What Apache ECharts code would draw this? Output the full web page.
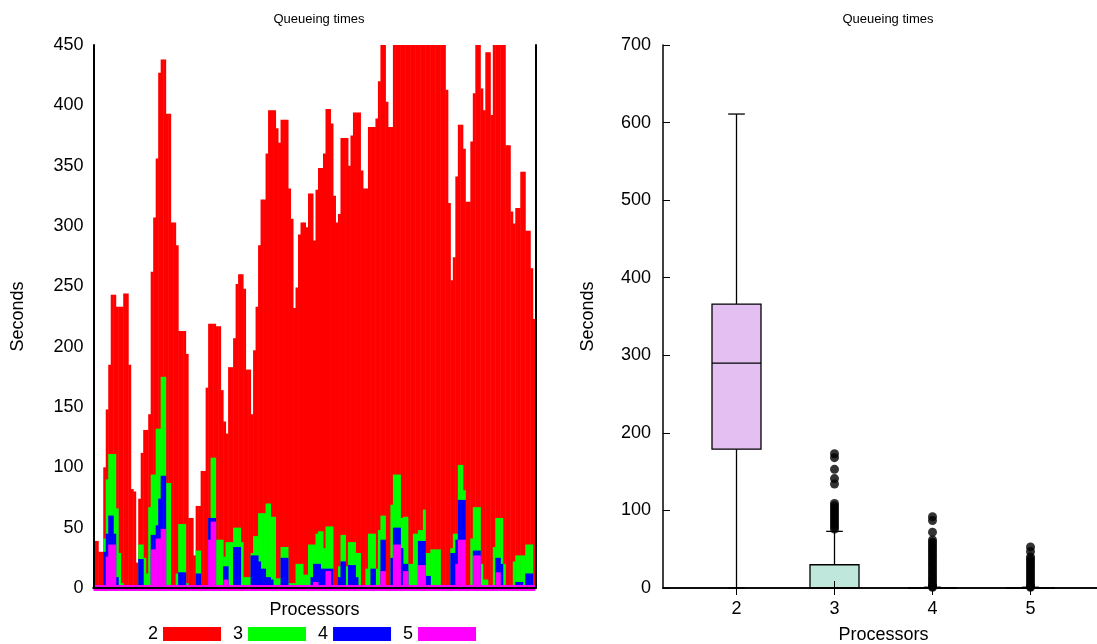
<!doctype html>
<html>
<head>
<meta charset="utf-8">
<title>Queueing times</title>
<script src="https://cdn.jsdelivr.net/npm/echarts@6/dist/echarts.min.js"></script>
<style>
  html, body { margin: 0; padding: 0; background: #fff; }
  #main { width: 1097px; height: 644px; }
</style>
</head>
<body>
<div id="main"></div>
<script>
// left panel: queueing time per bin, one array per processor count
var q2 = [39,39,30,30,100,148,185,243,243,233,
  233,233,244,244,185,82,80,21,74,112,
  131,131,144,262,307,356,427,438,438,393,
  393,303,303,284,213,213,213,194,58,58,
  27,68,68,97,97,166,219,219,219,217,
  217,164,138,128,183,183,207,252,260,260,
  248,181,181,144,197,233,284,322,322,360,
  396,396,396,381,369,388,388,388,331,306,
  232,249,293,303,303,299,327,327,288,330,
  348,348,360,397,397,385,325,303,310,373,
  373,373,350,375,394,394,394,346,331,331,
  382,382,382,389,420,460,460,403,382,382,
  460,460,460,460,460,460,460,460,460,460,
  460,460,460,460,460,460,460,460,460,460,
  460,413,319,255,274,341,384,384,364,320,
  320,370,410,460,460,414,396,444,444,392,
  460,460,460,460,460,367,367,312,302,315,
  315,345,345,296,296,265,223];
var q3 = [0,0,0,0,41,90,111,111,111,66,
  29,4,0,0,0,0,0,0,36,36,
  25,12,67,94,94,132,132,175,175,87,
  87,0,0,12,53,53,53,4,0,0,
  0,31,31,0,0,0,58,108,108,40,
  40,40,26,38,38,38,50,50,50,38,
  9,9,9,29,43,43,62,62,62,70,
  70,59,59,8,8,34,34,34,4,4,
  4,20,20,20,11,11,36,36,36,45,
  47,47,33,51,51,51,0,0,18,44,
  44,18,38,38,38,29,29,0,0,16,
  45,45,45,16,48,60,60,0,0,69,
  94,94,94,58,59,59,20,20,45,45,
  48,48,65,29,29,32,32,32,32,0,
  0,0,0,33,45,45,102,102,81,0,
  0,41,67,67,67,20,7,7,0,0,
  34,58,58,58,20,0,0,0,22,27,
  27,27,27,36,36,36,0];
var q4 = [0,0,0,0,30,45,60,60,45,9,
  0,0,0,0,0,0,0,0,24,24,
  0,0,0,44,44,52,74,93,93,0,
  0,0,0,0,13,13,13,0,0,0,
  0,12,12,0,0,0,58,58,58,0,
  0,0,18,18,0,0,34,34,34,0,
  0,0,0,27,27,27,22,16,16,9,
  9,7,0,0,0,25,25,25,0,0,
  0,0,0,0,0,0,0,9,20,20,
  20,16,16,16,16,16,0,0,9,22,
  22,0,19,19,19,9,0,0,0,0,
  0,16,16,0,0,40,40,0,0,25,
  50,50,50,33,20,20,0,0,0,0,
  39,39,39,10,10,0,0,0,0,0,
  0,0,0,29,29,40,73,73,73,0,
  0,0,31,31,31,0,0,0,0,0,
  0,25,25,20,0,0,0,0,0,5,
  5,5,0,12,12,12,0];
var q5 = [0,0,0,0,0,26,36,36,36,0,
  0,0,0,0,0,0,0,0,0,0,
  0,0,0,32,32,41,41,49,49,0,
  0,0,0,0,0,0,0,0,0,0,
  0,0,0,0,0,0,40,55,55,0,
  0,0,7,7,0,0,0,0,0,0,
  0,0,0,0,0,0,0,0,0,0,
  0,0,0,0,0,0,0,0,0,0,
  0,0,0,0,0,0,0,0,5,5,
  0,0,0,14,14,0,0,0,0,0,
  0,0,0,0,0,0,0,0,0,0,
  0,0,0,0,0,14,14,0,0,0,
  36,36,36,0,14,14,0,0,0,0,
  19,19,19,0,0,0,0,0,0,0,
  0,0,0,0,0,20,40,40,40,0,
  0,0,27,27,27,0,0,0,0,0,
  0,13,13,0,0,0,0,0,0,0,
  0,0,0,0,0,0,0];

// right panel: box statistics [processors, min, q1, median, q3, max]
var boxStats = [
  [2, 0, 179, 290, 366, 611],
  [3, 0, 0, 0, 30, 73],
  [4, 0, 0, 0, 0, 1],
  [5, 0, 0, 0, 0, 1]
];
var boxColors = ['#e3c0f1', '#bfe7db', '#ffffff', '#ffffff'];
var outliers3 = [173,168,153,141,134,109,106,103,100,97,94,91,88,85,82,79,76];
var outliers4 = [92,87,72,62,59,56,53,50,47,44,41,38,35,32,29,26,23,20,17,14,11,8,5,3,2,1];
var outliers5 = [53,47,40,37,34,31,28,25,22,19,16,13,10,7,4,2,1];
var procTicks = [2, 3, 4, 5];

var bins = q2.map(function (v, i) { return i; });
var outlierData = []
  .concat(outliers3.map(function (v) { return [3, v]; }))
  .concat(outliers4.map(function (v) { return [4, v]; }))
  .concat(outliers5.map(function (v) { return [5, v]; }));

var font = 'Liberation Sans, Arial, sans-serif';
var black = '#000';

function barSeries(name, data, color) {
  return {
    name: name,
    type: 'bar',
    xAxisIndex: 0,
    yAxisIndex: 0,
    data: data,
    barGap: '-100%',
    barWidth: 3,   // a bit wider than the band so neighbours overlap, no seams
    itemStyle: { color: color },
    emphasis: { disabled: true },
    clip: true
  };
}

var magenta = barSeries('5', q5, '#ff00ff');
magenta.markLine = {
  silent: true,
  symbol: ['none', 'none'],
  label: { show: false },
  lineStyle: { color: '#ff00ff', width: 6, type: 'solid' },
  data: [{ yAxis: 0 }]
};

var myChart = echarts.init(document.getElementById('main'));
var option = {
  animation: false,
  backgroundColor: '#fff',
  textStyle: { fontFamily: font, color: black },
  title: [
    { text: 'Queueing times', left: 314, top: 8, textAlign: 'center',
      textStyle: { fontSize: 13, fontWeight: 'normal', color: black, fontFamily: font } },
    { text: 'Queueing times', left: 883, top: 8, textAlign: 'center',
      textStyle: { fontSize: 13, fontWeight: 'normal', color: black, fontFamily: font } }
  ],
  legend: {
    data: ['2', '3', '4', '5'],
    left: 143,
    top: 620,
    align: 'right',
    icon: 'rect',
    itemWidth: 58,
    itemHeight: 14,
    itemGap: 12,
    textStyle: { fontSize: 18, color: black, fontFamily: font }
  },
  grid: [
    { left: 93.5, top: 45, width: 442, height: 543, outerBoundsMode: 'none' },
    // right edge falls outside the canvas, as in the original
    { left: 663, top: 45, width: 441, height: 543, outerBoundsMode: 'none' }
  ],
  xAxis: [
    { gridIndex: 0, type: 'category', data: bins, position: 'bottom', z: 10,
      axisLine: { lineStyle: { color: black, width: 2 } },
      axisTick: { show: false }, axisLabel: { show: false },
      name: 'Processors', nameLocation: 'middle', nameGap: 13,
      nameTextStyle: { fontSize: 18, color: black } },
    { gridIndex: 0, type: 'category', data: bins, position: 'top', z: 10,
      axisLine: { lineStyle: { color: black, width: 2 } },
      axisTick: { show: false }, axisLabel: { show: false } },
    { gridIndex: 1, type: 'value', min: 1.25, max: 5.75, position: 'bottom', z: 10,
      splitLine: { show: false },
      axisLine: { lineStyle: { color: black, width: 1.5 } },
      axisTick: { inside: true, length: 7, customValues: procTicks, lineStyle: { color: black } },
      axisLabel: { customValues: procTicks, fontSize: 18, color: black, margin: 12 },
      name: 'Processors', nameLocation: 'middle', nameGap: 38,
      nameTextStyle: { fontSize: 18, color: black } },
    { gridIndex: 1, type: 'value', min: 1.25, max: 5.75, position: 'top', z: 10,
      splitLine: { show: false },
      axisLine: { lineStyle: { color: black, width: 1.5 } },
      axisTick: { inside: true, length: 7, customValues: procTicks, lineStyle: { color: black } },
      axisLabel: { show: false } }
  ],
  yAxis: [
    { gridIndex: 0, type: 'value', min: 0, max: 450, interval: 50, position: 'left', z: 10,
      splitLine: { show: false },
      axisLine: { show: true, lineStyle: { color: black, width: 2 } },
      axisTick: { inside: true, length: 8, lineStyle: { color: black } },
      axisLabel: { fontSize: 18, color: black, margin: 10 },
      name: 'Seconds', nameLocation: 'middle', nameGap: 66, nameRotate: 90,
      nameTextStyle: { fontSize: 18, color: black } },
    { gridIndex: 0, type: 'value', min: 0, max: 450, interval: 50, position: 'right', z: 10,
      splitLine: { show: false },
      axisLine: { show: true, lineStyle: { color: black, width: 2 } },
      axisTick: { inside: true, length: 8, lineStyle: { color: black } },
      axisLabel: { show: false } },
    { gridIndex: 1, type: 'value', min: 0, max: 700, interval: 100, position: 'left', z: 10,
      splitLine: { show: false },
      axisLine: { show: true, lineStyle: { color: black, width: 1.5 } },
      axisTick: { inside: true, length: 7, lineStyle: { color: black } },
      axisLabel: { fontSize: 18, color: black, margin: 12 },
      name: 'Seconds', nameLocation: 'middle', nameGap: 66, nameRotate: 90,
      nameTextStyle: { fontSize: 18, color: black } },
    { gridIndex: 1, type: 'value', min: 0, max: 700, interval: 100, position: 'right', z: 10,
      splitLine: { show: false },
      axisLine: { show: true, lineStyle: { color: black, width: 1.5 } },
      axisTick: { inside: true, length: 7, lineStyle: { color: black } },
      axisLabel: { show: false } }
  ],
  series: [
    barSeries('2', q2, '#ff0000'),
    barSeries('3', q3, '#00ff00'),
    barSeries('4', q4, '#0000ff'),
    magenta,
    {
      name: 'box',
      type: 'custom',
      xAxisIndex: 2,
      yAxisIndex: 2,
      data: boxStats,
      encode: { x: 0, y: [1, 2, 3, 4, 5] },
      z: 3,
      renderItem: function (params, api) {
        var x = api.value(0);
        var lo = api.coord([x, api.value(1)]);
        var q1 = api.coord([x, api.value(2)]);
        var md = api.coord([x, api.value(3)]);
        var q3p = api.coord([x, api.value(4)]);
        var hi = api.coord([x, api.value(5)]);
        var half = api.size([0.5, 0])[0] / 2;
        var cap = api.size([0.17, 0])[0] / 2;
        var ln = { stroke: black, lineWidth: 1.3 };
        return {
          type: 'group',
          children: [
            { type: 'line', shape: { x1: hi[0], y1: hi[1], x2: q3p[0], y2: q3p[1] }, style: ln },
            { type: 'line', shape: { x1: lo[0], y1: lo[1], x2: q1[0], y2: q1[1] }, style: ln },
            { type: 'line', shape: { x1: hi[0] - cap, y1: hi[1], x2: hi[0] + cap, y2: hi[1] }, style: ln },
            { type: 'line', shape: { x1: lo[0] - cap, y1: lo[1], x2: lo[0] + cap, y2: lo[1] }, style: ln },
            { type: 'rect', shape: { x: q3p[0] - half, y: q3p[1], width: half * 2, height: q1[1] - q3p[1] },
              style: { fill: boxColors[params.dataIndex], stroke: black, lineWidth: 1.3 } },
            { type: 'line', shape: { x1: md[0] - half, y1: md[1], x2: md[0] + half, y2: md[1] }, style: ln }
          ]
        };
      }
    },
    {
      name: 'outliers',
      type: 'scatter',
      xAxisIndex: 2,
      yAxisIndex: 2,
      data: outlierData,
      symbol: 'circle',
      symbolSize: 9,
      z: 4,
      itemStyle: { color: black }
    }
  ]
};
myChart.setOption(option);
</script>
</body>
</html>
